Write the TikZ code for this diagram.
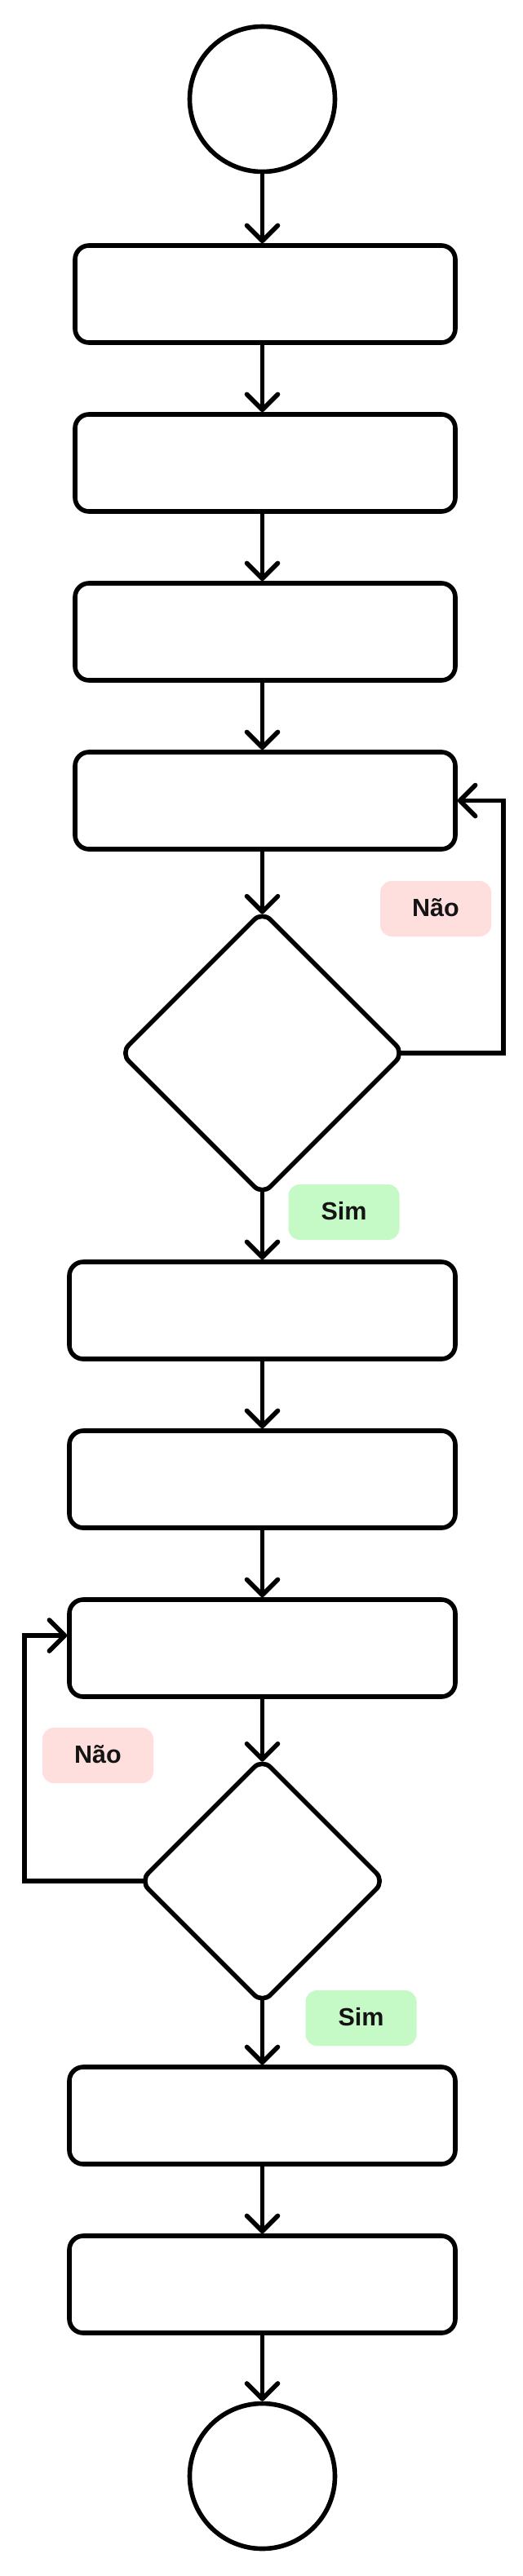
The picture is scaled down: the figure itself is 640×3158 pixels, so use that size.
\documentclass[tikz,border=0pt]{standalone}
\usepackage{fontspec}
\setmainfont{Liberation Sans}
\usetikzlibrary{shapes.geometric,arrows.meta}
\definecolor{naofill}{HTML}{FFDEDE}
\definecolor{simfill}{HTML}{C5F9C6}
\begin{document}
\begin{tikzpicture}[x=1pt,y=-1pt,
  lw/.style={line width=5.6pt},
  termnode/.style={circle, draw, lw, minimum size=178pt, inner sep=0pt},
  procA/.style={rectangle, draw, lw, rounded corners=17pt, minimum width=466pt, minimum height=119pt, inner sep=0pt},
  procB/.style={procA, minimum width=473pt},
  decision/.style={diamond, draw, lw, rounded corners=14pt, inner sep=0pt, outer sep=0pt, aspect=1},
  flow/.style={lw, -{Straight Barb[length=19pt,width=38pt,round]}},
  tag/.style={rectangle, rounded corners=14pt, minimum width=136pt, minimum height=68pt, inner sep=0pt, text height=20pt, text depth=1.5pt, font=\bfseries\fontsize{30.5}{36}\selectfont, text=black!92},
]
\fill[white] (0,0) rectangle (640,3158);
\useasboundingbox (0,0) rectangle (640,3158);

\node[termnode] (start) at (321.5,121.5) {};
\node[procA] (b1) at (325,360.5) {};
\node[procA] (b2) at (325,567.5) {};
\node[procA] (b3) at (325,774.5) {};
\node[procA] (b4) at (325,981.5) {};
\node[decision, minimum width=347pt, minimum height=347pt] (d1) at (321.5,1291) {};
\node[procB] (b5) at (321.5,1606.5) {};
\node[procB] (b6) at (321.5,1813.5) {};
\node[procB] (b7) at (321.5,2020.5) {};
\node[decision, minimum width=299pt, minimum height=299pt] (d2) at (321.5,2306) {};
\node[procB] (b8) at (321.5,2593.5) {};
\node[procB] (b9) at (321.5,2800.5) {};
\node[termnode] (stop) at (321.5,3035.5) {};

\node[tag, fill=naofill] (n1) at (534,1114) {Não};
\node[tag, fill=simfill] (s1) at (421.5,1486) {Sim};
\node[tag, fill=naofill] (n2) at (120,2152) {Não};
\node[tag, fill=simfill] (s2) at (442.5,2474) {Sim};

\coordinate (r1) at (617,0);
\coordinate (l2) at (30,0);
\coordinate (e7) at ([yshift=15.5pt]b7.west);

\draw[flow] (start.south) -- (start.south |- b1.north);
\draw[flow] (b1.south -| start.south) -- (start.south |- b2.north);
\draw[flow] (b2.south -| start.south) -- (start.south |- b3.north);
\draw[flow] (b3.south -| start.south) -- (start.south |- b4.north);
\draw[flow] (b4.south -| start.south) -- ([yshift=-3pt]d1.north);
\draw[flow] ([yshift=4pt]d1.south) -- (b5.north);
\draw[flow] ([xshift=-4pt]d1.east) -| (r1 |- b4.east) -- (b4.east);
\draw[flow] (b5.south) -- (b6.north);
\draw[flow] (b6.south) -- (b7.north);
\draw[flow] (b7.south) -- ([yshift=-3pt]d2.north);
\draw[flow] ([yshift=4pt]d2.south) -- (b8.north);
\draw[flow] ([xshift=4pt]d2.west) -| (l2 |- e7) -- (e7);
\draw[flow] (b8.south) -- (b9.north);
\draw[flow] (b9.south) -- (stop.north);
\end{tikzpicture}
\end{document}
